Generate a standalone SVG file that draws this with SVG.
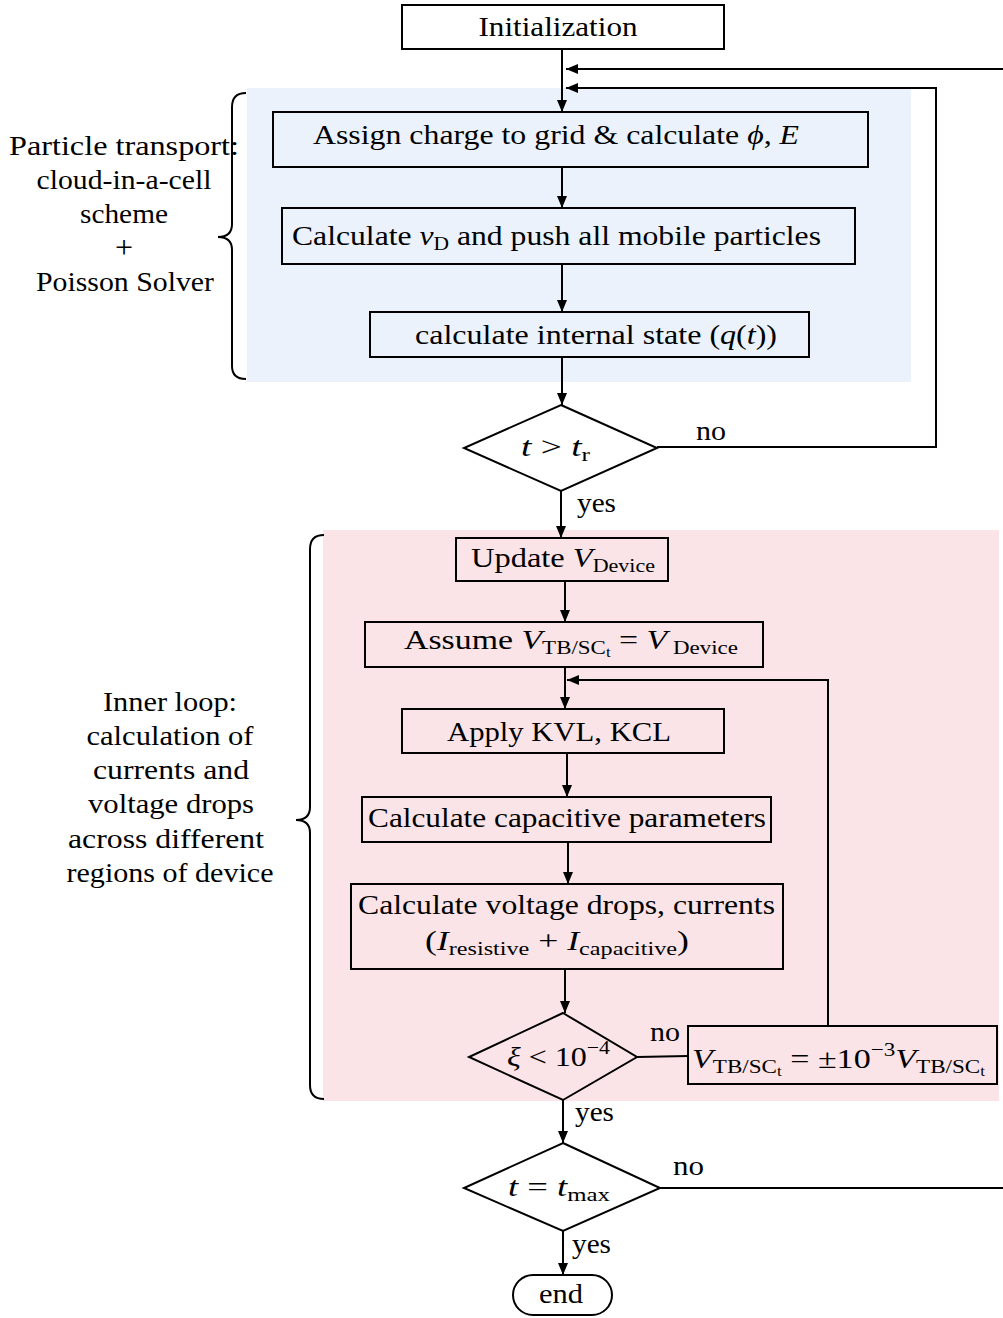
<svg xmlns="http://www.w3.org/2000/svg" width="1003" height="1318" viewBox="0 0 1003 1318">
<style>
text{font-family:"Liberation Serif","Times New Roman",serif;font-size:28px;fill:#000}
.c{text-anchor:middle}
.i{font-style:italic}
.s{font-size:19px}
.ss{font-size:14px}
.box{fill:none;stroke:#000;stroke-width:2}
.ln{fill:none;stroke:#000;stroke-width:2}
.ar{marker-end:url(#ah)}
</style>
<defs>
<marker id="ah" viewBox="0 0 12 10" refX="12" refY="5" markerWidth="12" markerHeight="10" markerUnits="userSpaceOnUse" orient="auto">
<path d="M0,0 L12,5 L0,10 z" fill="#000"/>
</marker>
</defs>
<rect x="247" y="88" width="664" height="294" fill="#EBF2FB"/>
<rect x="323" y="530" width="676" height="571" fill="#FAE4E7"/>
<g id="braces">
<path class="ln" d="M246 93 Q232 93 232 107 L232 224 Q232 237 218 237 Q232 237 232 250 L232 366 Q232 379 246 379"/>
<path class="ln" d="M324 535 Q310 535 310 549 L310 807 Q310 820 296 820 Q310 820 310 833 L310 1085 Q310 1099 324 1099"/>
</g>
<g id="label-particle">
<text class="c" x="124" y="155" textLength="230" lengthAdjust="spacingAndGlyphs">Particle transport:</text>
<text class="c" x="124" y="189" textLength="175" lengthAdjust="spacingAndGlyphs">cloud-in-a-cell</text>
<text class="c" x="124" y="223" textLength="88" lengthAdjust="spacingAndGlyphs">scheme</text>
<text class="c" x="124" y="258" style="font-size:32px">+</text>
<text class="c" x="125" y="291" textLength="178" lengthAdjust="spacingAndGlyphs">Poisson Solver</text>
</g>
<g id="label-inner">
<text class="c" x="170" y="711" textLength="134" lengthAdjust="spacingAndGlyphs">Inner loop:</text>
<text class="c" x="170" y="745" textLength="167" lengthAdjust="spacingAndGlyphs">calculation of</text>
<text class="c" x="171" y="779" textLength="156" lengthAdjust="spacingAndGlyphs">currents and</text>
<text class="c" x="171" y="813" textLength="166" lengthAdjust="spacingAndGlyphs">voltage drops</text>
<text class="c" x="166" y="848" textLength="196" lengthAdjust="spacingAndGlyphs">across different</text>
<text class="c" x="170" y="882" textLength="207" lengthAdjust="spacingAndGlyphs">regions of device</text>
</g>
<g id="connectors">
<path class="ln ar" d="M562 49 L562 112"/>
<path class="ln ar" d="M1003 69 L566 69"/>
<path class="ln ar" d="M657 447 L936 447 L936 88 L566 88"/>
<path class="ln ar" d="M562 167 L562 208"/>
<path class="ln ar" d="M562 264 L562 312"/>
<path class="ln ar" d="M562 357 L562 405"/>
<path class="ln ar" d="M561 491 L561 538"/>
<path class="ln ar" d="M565 581 L565 622"/>
<path class="ln ar" d="M565 667 L565 709"/>
<path class="ln ar" d="M828 1026 L828 680 L567 680"/>
<path class="ln ar" d="M567 753 L567 797"/>
<path class="ln ar" d="M568 842 L568 884"/>
<path class="ln ar" d="M565 969 L565 1013"/>
<path class="ln" d="M637 1057 L688 1056"/>
<path class="ln ar" d="M563 1100 L563 1143"/>
<path class="ln" d="M660 1188 L1003 1188"/>
<path class="ln ar" d="M563 1231 L563 1275"/>
<text x="696" y="440" textLength="30" lengthAdjust="spacingAndGlyphs">no</text>
<text x="577" y="512" textLength="39" lengthAdjust="spacingAndGlyphs">yes</text>
<text x="650" y="1041" textLength="30" lengthAdjust="spacingAndGlyphs">no</text>
<text x="575" y="1121" textLength="39" lengthAdjust="spacingAndGlyphs">yes</text>
<text x="673" y="1175" textLength="31" lengthAdjust="spacingAndGlyphs">no</text>
<text x="572" y="1253" textLength="39" lengthAdjust="spacingAndGlyphs">yes</text>
</g>
<g id="init">
<rect class="box" x="402" y="5" width="322" height="44" fill="#fff"/>
<text class="c" x="558" y="36" textLength="159" lengthAdjust="spacingAndGlyphs">Initialization</text>
</g>
<g id="assign">
<rect class="box" x="273" y="112" width="595" height="55"/>
<text x="313" y="144" textLength="486" lengthAdjust="spacingAndGlyphs">Assign charge to grid &amp; calculate <tspan class="i">ϕ</tspan>, <tspan class="i">E</tspan></text>
</g>
<g id="push">
<rect class="box" x="282" y="208" width="573" height="56"/>
<text x="292" y="245" textLength="529" lengthAdjust="spacingAndGlyphs">Calculate <tspan class="i">v</tspan><tspan class="s" dy="5">D</tspan><tspan dy="-5"> and push all mobile particles</tspan></text>
</g>
<g id="state">
<rect class="box" x="370" y="312" width="439" height="45"/>
<text x="415" y="344" textLength="362" lengthAdjust="spacingAndGlyphs">calculate internal state (<tspan class="i">q</tspan>(<tspan class="i">t</tspan>))</text>
</g>
<g id="dec-tr">
<path class="box" d="M561 405 L657 448 L561 491 L464 448 Z"/>
<text x="521" y="456" textLength="69" lengthAdjust="spacingAndGlyphs"><tspan class="i">t</tspan> &gt; <tspan class="i">t</tspan><tspan class="s" dy="5">r</tspan></text>
</g>
<g id="update">
<rect class="box" x="456" y="538" width="212" height="43"/>
<text x="471" y="567" textLength="184" lengthAdjust="spacingAndGlyphs">Update <tspan class="i">V</tspan><tspan class="s" dy="5">Device</tspan></text>
</g>
<g id="assume">
<rect class="box" x="365" y="622" width="398" height="45"/>
<text x="404" y="649" textLength="334" lengthAdjust="spacingAndGlyphs">Assume <tspan class="i">V</tspan><tspan class="s" dy="5">TB/SC</tspan><tspan class="ss" dy="3">t</tspan><tspan dy="-8"> = </tspan><tspan class="i">V</tspan><tspan class="s" dy="5"> Device</tspan></text>
</g>
<g id="kvl">
<rect class="box" x="402" y="709" width="322" height="44"/>
<text class="c" x="559" y="741" textLength="224" lengthAdjust="spacingAndGlyphs">Apply KVL, KCL</text>
</g>
<g id="cap">
<rect class="box" x="362" y="797" width="409" height="45"/>
<text x="368" y="827" textLength="398" lengthAdjust="spacingAndGlyphs">Calculate capacitive parameters</text>
</g>
<g id="vdrops">
<rect class="box" x="351" y="884" width="432" height="85"/>
<text x="358" y="914" textLength="417" lengthAdjust="spacingAndGlyphs">Calculate voltage drops, currents</text>
<text x="425" y="950" textLength="264" lengthAdjust="spacingAndGlyphs">(<tspan class="i">I</tspan><tspan class="s" dy="5">resistive</tspan><tspan dy="-5"> + </tspan><tspan class="i">I</tspan><tspan class="s" dy="5">capacitive</tspan><tspan dy="-5">)</tspan></text>
</g>
<g id="dec-xi">
<path class="box" d="M563 1013 L637 1057 L563 1100 L469 1057 Z"/>
<text x="507" y="1066" textLength="103" lengthAdjust="spacingAndGlyphs"><tspan class="i">ξ</tspan> &lt; 10<tspan class="s" dy="-12">−4</tspan></text>
</g>
<g id="vupdate">
<rect class="box" x="688" y="1026" width="309" height="58"/>
<text x="692" y="1068" textLength="293" lengthAdjust="spacingAndGlyphs"><tspan class="i">V</tspan><tspan class="s" dy="5">TB/SC</tspan><tspan class="ss" dy="3">t</tspan><tspan dy="-8"> = ±10</tspan><tspan class="s" dy="-12">−3</tspan><tspan class="i" dy="12">V</tspan><tspan class="s" dy="5">TB/SC</tspan><tspan class="ss" dy="3">t</tspan></text>
</g>
<g id="dec-tmax">
<path class="box" d="M563 1143 L660 1188 L563 1231 L464 1188 Z"/>
<text x="508" y="1196" textLength="102" lengthAdjust="spacingAndGlyphs"><tspan class="i">t</tspan> = <tspan class="i">t</tspan><tspan class="s" dy="5">max</tspan></text>
</g>
<g id="end">
<rect class="box" x="513" y="1275" width="99" height="40" rx="20" ry="20"/>
<text class="c" x="561" y="1303" textLength="44" lengthAdjust="spacingAndGlyphs">end</text>
</g>
</svg>
